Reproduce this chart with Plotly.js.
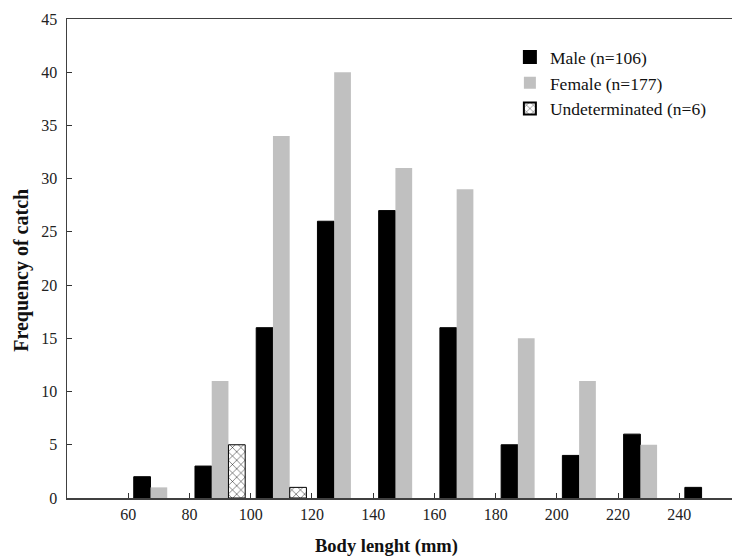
<!DOCTYPE html>
<html>
<head>
<meta charset="utf-8">
<script src="https://cdn.plot.ly/plotly-3.0.1.min.js"></script>
<style>
  html, body { margin: 0; padding: 0; background: #fff; }
  #chart { width: 732px; height: 556px; }
</style>
</head>
<body>
<div id="chart"></div>
<script>
// Length classes (mm): each bar group sits in the middle of its 20 mm bin
const binCentres = [70, 90, 110, 130, 150, 170, 190, 210, 230, 250];
const tickValues = [60, 80, 100, 120, 140, 160, 180, 200, 220, 240];

// Catch counts per length class
const maleCounts   = [2, 3, 16, 26, 27, 16, 5, 4, 6, 1];
const femaleCounts = [1, 11, 34, 40, 31, 29, 15, 11, 5, 0];
const undetCounts  = [0, 5, 1, 0, 0, 0, 0, 0, 0, 0];

const serif = 'Liberation Serif, Times New Roman, serif';

// empty classes get no outline, so no stub is drawn on the baseline
const outlineFor = counts => counts.map(v => (v > 0 ? 1 : 0));

const traces = [
  {
    type: 'bar', name: 'Male (n=106)',
    x: binCentres, y: maleCounts,
    marker: { color: '#000000', line: { color: '#000000', width: outlineFor(maleCounts) } },
    hoverinfo: 'skip'
  },
  {
    type: 'bar', name: 'Female (n=177)',
    x: binCentres, y: femaleCounts,
    marker: { color: '#c0c0c0', line: { width: 0 } },
    hoverinfo: 'skip'
  },
  {
    type: 'bar', name: 'Undeterminated (n=6)',
    x: binCentres, y: undetCounts,
    marker: {
      color: '#ffffff',
      line: { color: '#000000', width: outlineFor(undetCounts) },
      pattern: { shape: 'x', fgcolor: '#000000', bgcolor: '#ffffff', size: 6, solidity: 0.15 }
    },
    hoverinfo: 'skip'
  }
];

const layout = {
  width: 732, height: 556,
  paper_bgcolor: '#ffffff', plot_bgcolor: '#ffffff',
  margin: { l: 67, r: 0, t: 19, b: 58 },
  barmode: 'group', bargap: 0.18, bargroupgap: 0,
  font: { family: serif, size: 16, color: '#1a1a1a' },
  showlegend: true,
  legend: {
    x: 0.666, y: 0.958, xanchor: 'left', yanchor: 'top',
    bgcolor: 'rgba(0,0,0,0)', borderwidth: 0,
    font: { family: serif, size: 17.5, color: '#111' },
    tracegroupgap: 0, itemsizing: 'constant'
  },
  xaxis: {
    range: [40, 257.2],
    tickmode: 'array', tickvals: tickValues, ticktext: tickValues.map(String),
    ticks: 'inside', ticklen: 5, tickwidth: 1, tickcolor: '#333',
    ticklabelstandoff: 1,
    showline: true, linecolor: '#404040', linewidth: 1.5, mirror: true,
    showgrid: false, zeroline: false,
    tickfont: { family: serif, size: 16, color: '#222' }
  },
  yaxis: {
    range: [0, 45], dtick: 5,
    ticks: 'inside', ticklen: 5, tickwidth: 1, tickcolor: '#333',
    ticklabelstandoff: 5,
    showline: true, linecolor: '#404040', linewidth: 1.5,
    showgrid: false, zeroline: false,
    tickfont: { family: serif, size: 16, color: '#222' }
  },
  annotations: [
    {
      text: '<b>Body lenght (mm)</b>',
      xref: 'paper', yref: 'paper', x: 0.481, y: -0.101,
      xanchor: 'center', yanchor: 'middle', showarrow: false,
      font: { family: serif, size: 18.5, color: '#111' }
    },
    {
      text: '<b>Frequency of catch</b>',
      xref: 'paper', yref: 'paper', x: -0.068, y: 0.476,
      xanchor: 'center', yanchor: 'middle', showarrow: false, textangle: -90,
      font: { family: serif, size: 20, color: '#111' }
    }
  ]
};

Plotly.newPlot('chart', traces, layout, { displayModeBar: false, staticPlot: true });
</script>
</body>
</html>
